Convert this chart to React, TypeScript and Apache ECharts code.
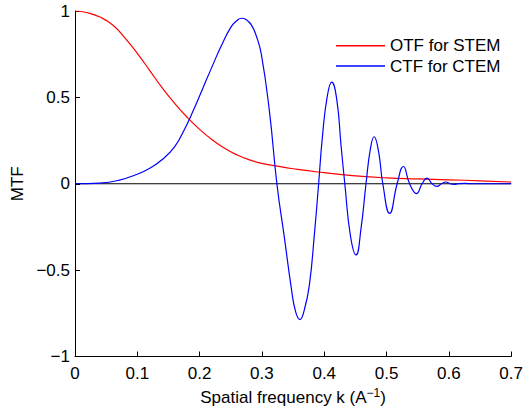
import React, { useEffect, useRef } from "react";
import * as echarts from "echarts";

const otfK = [0, 0.02, 0.04, 0.06, 0.08, 0.1, 0.12, 0.14, 0.16, 0.18, 0.2, 0.22, 0.24, 0.26, 0.28, 0.3, 0.323, 0.35, 0.39, 0.45, 0.5, 0.55, 0.6, 0.65, 0.7];
const otfV = [1.0, 0.99, 0.965, 0.92, 0.845, 0.755, 0.655, 0.555, 0.465, 0.385, 0.315, 0.255, 0.205, 0.167, 0.138, 0.118, 0.103, 0.087, 0.068, 0.046, 0.034, 0.028, 0.023, 0.017, 0.01];

const ctfK = [0, 0.04, 0.07, 0.1, 0.12, 0.14, 0.16, 0.175, 0.19, 0.205, 0.22, 0.235, 0.25, 0.26, 0.267, 0.275, 0.283, 0.291, 0.299, 0.312, 0.324, 0.336, 0.347, 0.354, 0.361, 0.368, 0.376, 0.384, 0.391, 0.397, 0.405, 0.412, 0.42, 0.427, 0.433, 0.442, 0.451, 0.459, 0.467, 0.474, 0.48, 0.487, 0.494, 0.505, 0.517, 0.527, 0.537, 0.548, 0.557, 0.565, 0.573, 0.581, 0.588, 0.595, 0.602, 0.608, 0.615, 0.625, 0.64, 0.7];
const ctfV = [0, 0.004, 0.02, 0.055, 0.09, 0.14, 0.215, 0.31, 0.425, 0.552, 0.678, 0.8, 0.905, 0.945, 0.958, 0.95, 0.92, 0.855, 0.75, 0.42, 0, -0.31, -0.6, -0.74, -0.786, -0.73, -0.59, -0.3, 0, 0.27, 0.51, 0.588, 0.49, 0.22, 0, -0.3, -0.412, -0.26, 0, 0.2, 0.272, 0.19, 0, -0.172, 0, 0.1, 0, -0.057, 0, 0.033, 0, -0.015, 0, 0.01, 0, -0.004, 0, 0.002, 0, 0];

const xTicks = [0, 0.1, 0.2, 0.3, 0.4, 0.5, 0.6, 0.7];
const yTicks = [-1, -0.5, 0, 0.5, 1];

const FONT = "'Liberation Sans', Arial, Helvetica, sans-serif";

function fmt(v: number): string {
  const s = String(Math.round(v * 10) / 10);
  return s.replace("-", "\u2212");
}

export default function App() {
  const ref = useRef<HTMLDivElement>(null);
  useEffect(() => {
    if (!ref.current) return;
    const chart = echarts.init(ref.current, null, { renderer: "svg" });
    const axisLine = { show: true, onZero: false, lineStyle: { color: "#000", width: 1 } };
    chart.setOption({
      animation: false,
      backgroundColor: "#fff",
      grid: { left: 75, right: 10, top: 11, bottom: 52 },
      legend: {
        left: 331,
        top: 31.7,
        orient: "vertical",
        itemWidth: 49,
        itemHeight: 1.5,
        itemGap: 2.3,
        icon: "rect",
        textStyle: { fontFamily: FONT, fontSize: 17, color: "#000", lineHeight: 18 },
        data: ["OTF for STEM", "CTF for CTEM"],
      },
      xAxis: {
        type: "value",
        min: 0,
        max: 0.7,
        interval: 0.1,
        axisLine,
        axisTick: { show: true, inside: true, length: 5, lineStyle: { color: "#000" } },
        splitLine: { show: false },
        axisLabel: { fontFamily: FONT, fontSize: 17, color: "#000", margin: 8, formatter: (v: number) => (xTicks.some((t) => Math.abs(t - v) < 1e-9) ? fmt(v) : "") },
        name: "{a|Spatial frequency k (A}{s|\u22121}{a|)}",
        nameLocation: "middle",
        nameGap: 30,
        nameTextStyle: {
          fontFamily: FONT,
          color: "#000",
          rich: {
            a: { fontFamily: FONT, fontSize: 17, color: "#000" },
            s: { fontFamily: FONT, fontSize: 12, color: "#000", padding: [0, 0, 10, 0] },
          },
        },
      },
      yAxis: {
        type: "value",
        min: -1,
        max: 1,
        interval: 0.5,
        axisLine,
        axisTick: { show: true, inside: true, length: 5, lineStyle: { color: "#000" } },
        splitLine: { show: false },
        axisLabel: { fontFamily: FONT, fontSize: 17, color: "#000", margin: 5, formatter: (v: number) => (yTicks.some((t) => Math.abs(t - v) < 1e-9) ? fmt(v) : "") },
        name: "MTF",
        nameLocation: "middle",
        nameGap: 48,
        nameRotate: 90,
        nameTextStyle: { fontFamily: FONT, fontSize: 17, color: "#000" },
      },
      series: [
        {
          name: "zero",
          type: "line",
          data: [[0, 0], [0.7, 0]],
          showSymbol: false,
          silent: true,
          lineStyle: { color: "#000", width: 1.2 },
          z: 1,
        },
        {
          name: "OTF for STEM",
          type: "line",
          data: otfK.map((k, i) => [k, otfV[i]]),
          showSymbol: false,
          smooth: 0.5,
          color: "#ff0000",
          lineStyle: { color: "#ff0000", width: 1.2 },
          z: 2,
        },
        {
          name: "CTF for CTEM",
          type: "line",
          data: ctfK.map((k, i) => [k, ctfV[i]]),
          showSymbol: false,
          smooth: 0.5,
          color: "#0000ff",
          lineStyle: { color: "#0000ff", width: 1.2 },
          z: 3,
        },
      ],
    });
    return () => chart.dispose();
  }, []);
  return <div ref={ref} style={{ width: 526, height: 411, position: "absolute", left: 0, top: 0 }} />;
}
